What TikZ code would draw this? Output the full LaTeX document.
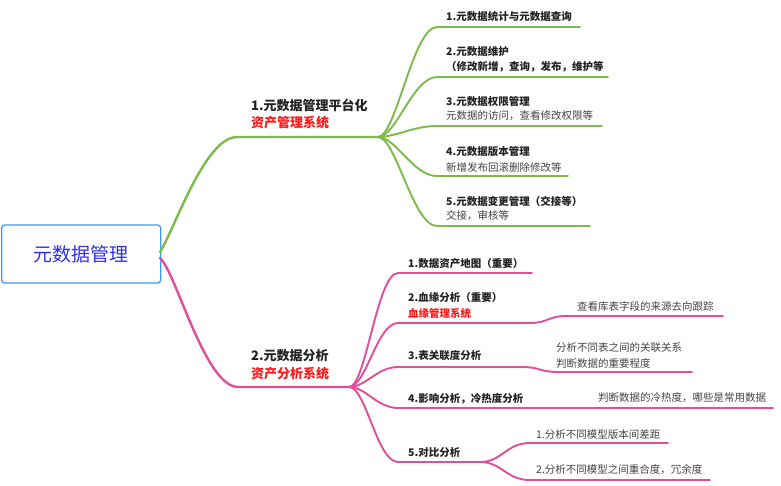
\documentclass[tikz,border=0pt]{standalone}
\usepackage{fontspec}
\setmainfont{Noto Sans CJK SC}
\definecolor{gA}{HTML}{7CBB4A}
\definecolor{pk}{HTML}{E04E9C}
\definecolor{rootblue}{HTML}{3D9BF2}
\definecolor{roottext}{HTML}{3030E0}
\definecolor{txt}{HTML}{222222}
\definecolor{subt}{HTML}{444444}
\definecolor{redt}{HTML}{FF1A1A}
\begin{document}
\begin{tikzpicture}[x=1pt,y=-1pt,
  lvone/.style={font=\fontsize{13}{15}\selectfont\bfseries, text=txt, anchor=west, inner sep=0pt},
  lvonered/.style={font=\fontsize{13}{15}\selectfont\bfseries, text=redt, anchor=west, inner sep=0pt},
  lvtwo/.style={font=\fontsize{10.5}{15}\selectfont\bfseries, text=txt, anchor=west, inner sep=0pt},
  lvtwored/.style={font=\fontsize{10.5}{15}\selectfont\bfseries, text=redt, anchor=west, inner sep=0pt},
  desc/.style={font=\fontsize{10.5}{15}\selectfont, text=subt, anchor=west, inner sep=0pt},
  gmain/.style={draw=gA, line width=2.4pt, line cap=round},
  gsub/.style={draw=gA, line width=1.9pt, line cap=round},
  pmain/.style={draw=pk, line width=2.4pt, line cap=round},
  psub/.style={draw=pk, line width=1.9pt, line cap=round}
]
\useasboundingbox (0,0) rectangle (781,485);
\fill[white] (0,0) rectangle (781,485);

% root
\node[draw=rootblue, line width=1.3pt, rounded corners=3pt, fill=white,
      minimum width=159pt, minimum height=58pt, anchor=west, inner sep=0pt,
      font=\fontsize{19}{22}\selectfont, text=roottext] (root) at (1,254) {元数据管理};

% ---------- green branch ----------
\coordinate (g0) at (160,252);
\coordinate (g1) at (237,137);
\coordinate (g2) at (378,137);
\draw[gmain] (g0) .. controls (175,228) and (205,137) .. (g1) -- (g2);
\node[lvone] (gt) at (251,105) {1.元数据管理平台化};
\node[lvonered] (gr) at (251,123) {资产管理系统};

% green children
\foreach \n/\y/\e in {1/27/580, 2/77/608, 3/126/602, 4/176/568, 5/226/590}{
  \coordinate (gc\n s) at (437,\y);
  \coordinate (gc\n e) at (\e,\y);
  \draw[gsub] (g2) .. controls (396,137) and (413,\y) .. (gc\n s) -- (gc\n e);
}
\node[lvtwo] (gc1t) at (446,16) {1.元数据统计与元数据查询};
\node[lvtwo] (gc2t) at (446,52) {2.元数据维护};
\node[lvtwo] (gc2u) at (446,67) {（修改新增，查询，发布，维护等};
\node[lvtwo] (gc3t) at (446,101) {3.元数据权限管理};
\node[desc]  (gc3d) at (446,116) {元数据的访问，查看修改权限等};
\node[lvtwo] (gc4t) at (446,152) {4.元数据版本管理};
\node[desc]  (gc4d) at (446,167) {新增发布回滚删除修改等};
\node[lvtwo] (gc5t) at (446,201) {5.元数据变更管理（交接等）};
\node[desc]  (gc5d) at (446,216) {交接，审核等};

% ---------- pink branch ----------
\coordinate (p0) at (160,258);
\coordinate (p1) at (238,387);
\coordinate (p2) at (349,387);
\draw[pmain] (p0) .. controls (176,272) and (205,387) .. (p1) -- (p2);
\node[lvone] (pt) at (251,356) {2.元数据分析};
\node[lvonered] (pr) at (251,374) {资产分析系统};

\foreach \n/\y/\e in {1/273/532, 2/323/530, 3/367/522, 4/408/560, 5/462/480}{
  \coordinate (pc\n s) at (398,\y);
  \coordinate (pc\n e) at (\e,\y);
  \draw[psub] (p2) .. controls (366,387) and (377,\y) .. (pc\n s) -- (pc\n e);
}
\node[lvtwo] (pc1t) at (408,264) {1.数据资产地图（重要）};
\node[lvtwo] (pc2t) at (408,298) {2.血缘分析（重要）};
\node[lvtwored] (pc2r) at (408,313) {血缘管理系统};
\node[lvtwo] (pc3t) at (408,356) {3.表关联度分析};
\node[lvtwo] (pc4t) at (408,399) {4.影响分析，冷热度分析};
\node[lvtwo] (pc5t) at (408,453) {5.对比分析};

% grandchildren
\coordinate (q2s) at (566,316); \coordinate (q2e) at (723,316);
\draw[psub] (pc2e) .. controls (548,323) and (548,316) .. (q2s) -- (q2e);
\node[desc] (q2t) at (577,306) {查看库表字段的来源去向跟踪};

\coordinate (q3s) at (558,372); \coordinate (q3e) at (692,372);
\draw[psub] (pc3e) .. controls (540,367) and (540,372) .. (q3s) -- (q3e);
\node[desc] (q3a) at (556,348) {分析不同表之间的关联关系};
\node[desc] (q3b) at (556,364) {判断数据的重要程度};

\coordinate (q4s) at (590,408); \coordinate (q4e) at (773,408);
\draw[psub] (pc4e) -- (q4s) -- (q4e);
\node[desc] (q4t) at (598,398) {判断数据的冷热度，哪些是常用数据};

\coordinate (q5as) at (530,443); \coordinate (q5ae) at (668,443);
\coordinate (q5bs) at (530,480); \coordinate (q5be) at (710,480);
\draw[psub] (pc5e) .. controls (502,462) and (506,443) .. (q5as) -- (q5ae);
\draw[psub] (pc5e) .. controls (502,462) and (506,480) .. (q5bs) -- (q5be);
\node[desc] (q5a) at (536,435) {1.分析不同模型版本间差距};
\node[desc] (q5b) at (536,470) {2.分析不同模型之间重合度，冗余度};
\end{tikzpicture}
\end{document}
